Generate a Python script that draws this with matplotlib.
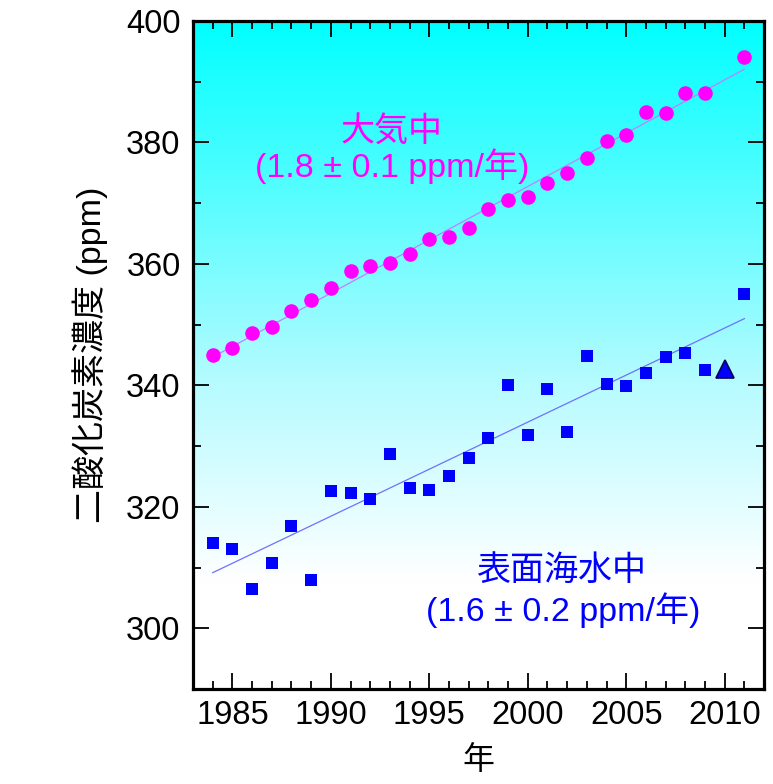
import numpy as np
import matplotlib
matplotlib.use("Agg")
import matplotlib.pyplot as plt
from matplotlib.colors import LinearSegmentedColormap
from matplotlib.ticker import MultipleLocator

plt.rcParams["font.family"] = ["Liberation Sans", "Noto Sans CJK JP", "DejaVu Sans"]

# 大気中 CO2 (ppm)
atm_years = [1984, 1985, 1986, 1987, 1988, 1989, 1990, 1991, 1992, 1993,
             1994, 1995, 1996, 1997, 1998, 1999, 2000, 2001, 2002, 2003,
             2004, 2005, 2006, 2007, 2008, 2009, 2011]
atm_ppm = [345.0, 346.1, 348.6, 349.6, 352.2, 354.0, 356.0, 358.8, 359.6, 360.1,
           361.6, 364.1, 364.4, 365.9, 369.0, 370.5, 371.0, 373.4, 374.9, 377.4,
           380.2, 381.3, 385.0, 384.8, 388.1, 388.1, 394.0]

# 表面海水中 CO2 (ppm)
sea_years = [1984, 1985, 1986, 1987, 1988, 1989, 1990, 1991, 1992, 1993,
             1994, 1995, 1996, 1997, 1998, 1999, 2000, 2001, 2002, 2003,
             2004, 2005, 2006, 2007, 2008, 2009, 2011]
sea_ppm = [314.1, 313.1, 306.5, 310.8, 316.9, 308.0, 322.6, 322.3, 321.3, 328.7,
           323.1, 322.8, 325.1, 328.0, 331.3, 340.0, 331.8, 339.4, 332.3, 344.8,
           340.2, 339.9, 342.0, 344.7, 345.3, 342.5, 355.0]

# 2010 (triangle)
tri_year = [2010]
tri_ppm = [342.7]

x_ticks = [1985, 1990, 1995, 2000, 2005, 2010]
y_ticks = [300, 320, 340, 360, 380, 400]


def create_chart():
    fig = plt.figure(figsize=(7.73, 7.84), dpi=100)
    ax = fig.add_axes([0.2497, 0.1212, 0.7387, 0.852])
    ax.set_xlim(1983, 2012)
    ax.set_ylim(290, 400)

    # background gradient: cyan at top fading to white
    cmap = LinearSegmentedColormap.from_list(
        "bg", [(0.0, "#ffffff"), (0.16, "#ffffff"), (0.45, "#b8fbff"), (1.0, "#00ffff")])
    grad = np.linspace(0, 1, 256).reshape(-1, 1)
    ax.imshow(grad, cmap=cmap, aspect="auto", origin="lower",
              extent=[1983, 2012, 290, 400], zorder=0)

    # fit lines
    a = np.polyfit(atm_years, atm_ppm, 1)
    s = np.polyfit(sea_years, sea_ppm, 1)
    xs = np.array([min(atm_years), max(atm_years)])
    ax.plot(xs, np.polyval(a, xs), color="#c080ff", linewidth=0.9, zorder=2)
    ax.plot(xs, np.polyval(s, xs), color="#7070ff", linewidth=0.9, zorder=2)

    ax.plot(atm_years, atm_ppm, "o", color="#ff00ff", markersize=10.5,
            markeredgewidth=0, zorder=3)
    ax.plot(sea_years, sea_ppm, "s", color="#0000ff", markersize=8.8,
            markeredgewidth=0, zorder=3)
    ax.plot(tri_year, tri_ppm, "^", color="#0000ff", markersize=12.5,
            markeredgecolor="#000055", markeredgewidth=1.2, zorder=3)

    ax.text(1993.07, 381.8, "大気中", color="#ff00ff", fontsize=24.5,
            ha="center", va="center")
    ax.text(1993.1, 376.1, "(1.8 ± 0.1 ppm/年)", color="#ff00ff", fontsize=24.5,
            ha="center", va="center")
    ax.text(2001.7, 309.5, "表面海水中", color="#0000ff", fontsize=24.5,
            ha="center", va="center")
    ax.text(2001.8, 302.9, "(1.6 ± 0.2 ppm/年)", color="#0000ff", fontsize=24.5,
            ha="center", va="center")

    ax.set_xticks(x_ticks)
    ax.set_yticks(y_ticks)
    ax.xaxis.set_minor_locator(MultipleLocator(1))
    ax.yaxis.set_minor_locator(MultipleLocator(10))
    ax.tick_params(which="both", direction="in", top=True, right=True,
                   labelsize=23.5, width=1.3, color="black")
    ax.tick_params(which="major", length=11.5)
    ax.tick_params(which="minor", length=6)
    ax.tick_params(axis="y", pad=9)
    ax.tick_params(axis="x", pad=8)
    for sp in ax.spines.values():
        sp.set_linewidth(2.3)

    ax.set_ylabel("二酸化炭素濃度 (ppm)", fontsize=24.5, labelpad=13)
    ax.set_xlabel("年", fontsize=23, labelpad=11)

    fig.savefig("out.png", dpi=100)


if __name__ == "__main__":
    create_chart()
